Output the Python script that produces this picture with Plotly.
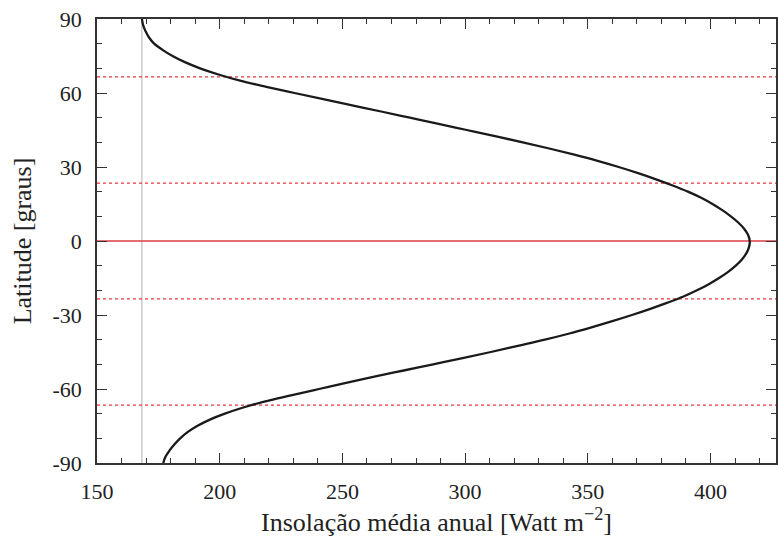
import plotly.graph_objects as go

# Data (latitude in degrees, annual mean insolation in W m^-2)
latitude = [90, 87.5, 85, 82.5, 80, 77.5, 75, 72.5, 70, 67.5, 65, 62.5, 60, 57.5, 55, 52.5, 50,
            47.5, 45, 42.5, 40, 37.5, 35, 32.5, 30, 27.5, 25, 22.5, 20, 17.5, 15, 12.5, 10, 7.5, 5, 2.5, 0,
            -2.5, -5, -7.5, -10, -12.5, -15, -17.5, -20, -22.5, -25, -27.5, -30, -32.5, -35, -37.5, -40,
            -42.5, -45, -47.5, -50, -52.5, -55, -57.5, -60, -62.5, -65, -67.5, -70, -72.5, -75, -77.5,
            -80, -82.5, -85, -87.5, -90]
insolation = [168.3, 168.8, 169.8, 171.2, 173.3, 176.7, 180.8, 185.8, 192.0, 199.5, 208.3, 219.0, 230.5,
              242.2, 254.0, 265.8, 277.5, 289.2, 300.7, 312.2, 323.5, 334.3, 344.5, 354.0, 362.6, 370.5,
              377.8, 384.6, 390.8, 396.2, 400.8, 404.8, 408.3, 411.3, 413.7, 415.3, 416.0,
              415.7, 414.6, 412.8, 410.3, 407.2, 403.5, 399.3, 394.5, 389.0, 382.5, 375.5, 368.0, 360.0,
              351.5, 342.5, 332.5, 321.5, 310.5, 299.0, 287.0, 275.0, 263.0, 251.5, 240.5, 229.5, 218.6,
              209.6, 202.1, 195.8, 190.8, 186.9, 183.9, 181.5, 179.5, 177.9, 177.0]
dotted_lats = [23.44, -23.44, 66.56, -66.56]
equator_lat = [0]
reference_x = 168.3
x_ticks = [150, 200, 250, 300, 350, 400]
y_ticks = [90, 60, 30, 0, -30, -60, -90]
y_tick_labels = ["90", "60", "30", "0", "-30", "-60", "-90"]

x_range = [150, 426.7]
y_range = [-90, 90]

fig = go.Figure()

# vertical gray reference line
fig.add_trace(go.Scatter(x=[reference_x, reference_x], y=y_range, mode="lines",
                         line=dict(color="#b0b0b0", width=1), hoverinfo="skip", showlegend=False))

# red dotted lines (tropics and polar circles)
for lat in dotted_lats:
    fig.add_trace(go.Scatter(x=x_range, y=[lat, lat], mode="lines",
                             line=dict(color="#e8343e", width=1.3, dash="dot"),
                             hoverinfo="skip", showlegend=False))
# equator
for lat in equator_lat:
    fig.add_trace(go.Scatter(x=x_range, y=[lat, lat], mode="lines",
                             line=dict(color="#dc3c44", width=1.3),
                             hoverinfo="skip", showlegend=False))

# main curve
fig.add_trace(go.Scatter(x=insolation, y=latitude, mode="lines",
                         line=dict(color="#1a1a1a", width=2.3, shape="spline", smoothing=1.0),
                         showlegend=False))

font_family = "Times New Roman"
axis_common = dict(
    showgrid=False, zeroline=False, showline=True, linecolor="#333333", linewidth=1.5,
    mirror="ticks", ticks="inside", ticklen=10, tickwidth=1.2, tickcolor="#333333",
    tickfont=dict(family=font_family, size=22, color="#222222"),
)

fig.update_layout(
    width=778, height=538,
    margin=dict(l=97, r=0, t=19, b=75),
    paper_bgcolor="white", plot_bgcolor="white",
    font=dict(family=font_family, color="#222222", size=22),
    xaxis=dict(range=x_range, tickvals=x_ticks,
               minor=dict(dtick=10, tick0=150, ticks="inside", ticklen=5, tickcolor="#333333", tickwidth=1),
               title=dict(text="Insolação média anual [Watt m<sup>−2</sup>]",
                          font=dict(family=font_family, size=26, color="#222222"), standoff=4),
               ticklabelstandoff=8,
               **axis_common),
    yaxis=dict(range=y_range, tickvals=y_ticks, ticktext=y_tick_labels,
               minor=dict(dtick=10, tick0=-90, ticks="inside", ticklen=5, tickcolor="#333333", tickwidth=1),
               title=dict(text="Latitude [graus]",
                          font=dict(family=font_family, size=26, color="#222222"), standoff=13),
               ticklabelstandoff=9,
               **axis_common),
)

fig.write_html("out.html", config={"displayModeBar": False},
               post_script="document.body.style.margin='0px';document.body.style.padding='0px';")
